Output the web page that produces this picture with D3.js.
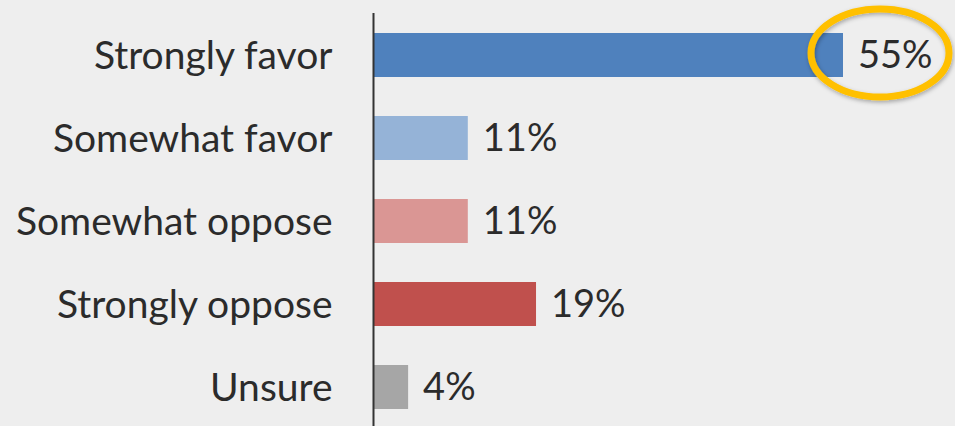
<!DOCTYPE html>
<html>
<head>
<meta charset="utf-8">
<script src="https://cdn.jsdelivr.net/npm/d3@7"></script>
<style>
  html, body { margin: 0; padding: 0; background: #eeeeee; }
  svg { display: block; }
</style>
</head>
<body>
<svg id="main-chart-svg" width="955" height="426"></svg>
<script>
// chart data
let categories = ["Strongly favor", "Somewhat favor", "Somewhat oppose", "Strongly oppose", "Unsure"];
let values = [55, 11, 11, 19, 4];
let barColors = ["#4f81bd", "#95b3d7", "#da9694", "#c0504d", "#a6a6a6"];
let valueLabels = ["55%", "11%", "11%", "19%", "4%"];

let svg = d3.select("#main-chart-svg");
let font = "Lato, 'Open Sans', sans-serif";

// scales
let xScale = d3.scaleLinear()
    .domain([0, 55])
    .range([374, 843]);

let yScale = d3.scaleBand()
    .domain(categories)
    .range([13.5, 428.5])
    .paddingInner(0.47)
    .paddingOuter(0.235);

let rows = categories.map((c, i) => ({cat: c, value: values[i], color: barColors[i], label: valueLabels[i]}));

// bars
svg.append("g").selectAll("rect")
    .data(rows)
    .enter().append("rect")
    .attr("x", xScale(0))
    .attr("y", d => yScale(d.cat))
    .attr("width", d => xScale(d.value) - xScale(0))
    .attr("height", yScale.bandwidth())
    .attr("fill", d => d.color);

// category labels via axisLeft
let yAxis = d3.axisLeft(yScale).tickSize(0).tickPadding(41);
let axisG = svg.append("g")
    .attr("transform", "translate(" + (xScale(0) - 0.5) + ",0)")
    .call(yAxis);
axisG.select(".domain").remove();
axisG.selectAll("text")
    .attr("font-family", font)
    .attr("font-size", 39)
    .attr("fill", "#2b2b2b")
    .attr("dy", "0.35em");

svg.append("line")
    .attr("x1", xScale(0) - 0.5).attr("x2", xScale(0) - 0.5)
    .attr("y1", 13).attr("y2", 426)
    .attr("stroke", "#333333")
    .attr("stroke-width", 2);

// value labels
svg.append("g").selectAll("text")
    .data(rows)
    .enter().append("text")
    .attr("x", d => xScale(d.value) + 15)
    .attr("y", d => yScale(d.cat) + yScale.bandwidth() / 2)
    .attr("dy", "0.35em")
    .attr("font-family", font)
    .attr("font-size", 38)
    .attr("fill", "#2b2b2b")
    .text(d => d.label);

// highlight ellipse around the top value
let defs = svg.append("defs");
let filt = defs.append("filter").attr("id", "shadow")
    .attr("x", "-20%").attr("y", "-20%").attr("width", "140%").attr("height", "140%");
filt.append("feDropShadow")
    .attr("dx", 1).attr("dy", 2).attr("stdDeviation", 2)
    .attr("flood-color", "#000").attr("flood-opacity", 0.3);

svg.append("ellipse")
    .attr("cx", xScale(values[0]) + 37)
    .attr("cy", yScale(categories[0]) + yScale.bandwidth() / 2 - 2)
    .attr("rx", 69)
    .attr("ry", 44)
    .attr("fill", "none")
    .attr("stroke", "#ffc000")
    .attr("stroke-width", 7)
    .attr("filter", "url(#shadow)");
</script>
</body>
</html>
